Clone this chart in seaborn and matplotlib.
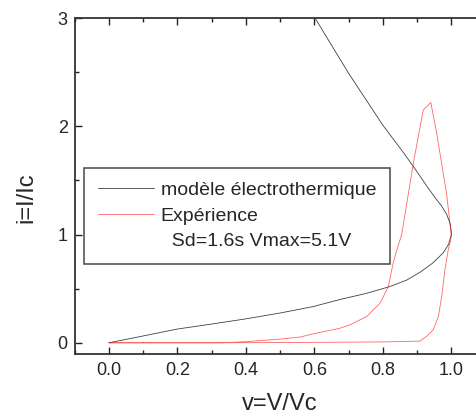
import pandas as pd
import seaborn as sns
import matplotlib.pyplot as plt
from matplotlib.lines import Line2D
from matplotlib.ticker import MultipleLocator, FormatStrFormatter

# electrothermal model curve (v, i)
model_v = [0.0, 0.1, 0.198, 0.3, 0.398, 0.5, 0.597, 0.675, 0.75, 0.821, 0.87, 0.91, 0.945,
           0.976, 0.992, 1.0, 0.999, 0.996, 0.986, 0.97, 0.955, 0.93, 0.889, 0.85, 0.80,
           0.75, 0.70, 0.65, 0.602]
model_i = [0.0, 0.063, 0.126, 0.173, 0.22, 0.275, 0.335, 0.40, 0.455, 0.52, 0.58, 0.655, 0.735,
           0.83, 0.91, 1.0, 1.05, 1.105, 1.19, 1.27, 1.33, 1.44, 1.63, 1.80, 2.01,
           2.25, 2.49, 2.75, 3.0]

# measured loop (v, i)
exp_v = [0.0, 0.3, 0.5, 0.8, 0.908, 0.928, 0.947, 0.962, 0.972, 0.981, 0.991, 1.0,
         0.999, 0.986, 0.957, 0.94, 0.918, 0.889, 0.855, 0.84, 0.83, 0.816, 0.792,
         0.753, 0.704, 0.675, 0.646, 0.607, 0.558, 0.5, 0.4, 0.33, 0.0]
exp_i = [0.0, 0.0, 0.002, 0.008, 0.015, 0.06, 0.12, 0.243, 0.43, 0.67, 0.86, 0.98,
         1.02, 1.38, 1.94, 2.22, 2.15, 1.66, 1.0, 0.85, 0.736, 0.52, 0.367,
         0.243, 0.166, 0.135, 0.115, 0.09, 0.053, 0.034, 0.01, 0.0, 0.0]

labels = ['modèle électrothermique', 'Expérience', '  Sd=1.6s Vmax=5.1V']

sns.set_style('ticks')
plt.rcParams['font.family'] = ['Liberation Sans', 'DejaVu Sans']

fig = plt.figure(figsize=(4.77, 4.16), dpi=100)
ax = fig.add_axes([0.1566, 0.150, 0.8614, 0.8065])

model_df = pd.DataFrame({'v': model_v, 'i': model_i})
exp_df = pd.DataFrame({'v': exp_v, 'i': exp_i})
sns.lineplot(data=model_df, x='v', y='i', sort=False, estimator=None,
             color='black', lw=0.6, alpha=0.75, ax=ax)
sns.lineplot(data=exp_df, x='v', y='i', sort=False, estimator=None,
             color='red', lw=0.6, alpha=0.6, ax=ax)

ax.set_xlim(-0.1, 1.1)
ax.set_ylim(-0.1, 3)
ax.xaxis.set_major_locator(MultipleLocator(0.2))
ax.xaxis.set_minor_locator(MultipleLocator(0.1))
ax.xaxis.set_major_formatter(FormatStrFormatter('%.1f'))
ax.yaxis.set_major_locator(MultipleLocator(1))
ax.yaxis.set_minor_locator(MultipleLocator(0.5))
ax.tick_params(which='both', direction='in', top=True, right=True,
               width=1, color='#222222')
ax.tick_params(which='major', length=5, labelsize=13)
ax.tick_params(which='minor', length=3)
ax.tick_params(axis='x', which='major', pad=6)
ax.tick_params(axis='y', which='major', pad=5)
for sp in ax.spines.values():
    sp.set_visible(True)
    sp.set_linewidth(1.3)
    sp.set_color('#333333')

ax.set_xlabel('v=V/Vc', fontsize=17)
ax.set_ylabel('i=I/Ic', fontsize=17)
ax.xaxis.set_label_coords(0.5, -0.118)
ax.yaxis.set_label_coords(-0.092, 0.466)

handles = [Line2D([], [], color='black', lw=0.6, alpha=0.75),
           Line2D([], [], color='red', lw=0.6, alpha=0.6),
           Line2D([], [], color='none')]
leg = ax.legend(handles, labels, loc='upper left', bbox_to_anchor=(0.0226, 0.553),
                borderaxespad=0, fontsize=14, handlelength=2.9, handletextpad=0.35,
                labelspacing=0.4, borderpad=0.7, fancybox=False, framealpha=1)
leg.get_frame().set_edgecolor('#555555')
leg.get_frame().set_linewidth(1.2)

plt.savefig('out.png', dpi=100)
